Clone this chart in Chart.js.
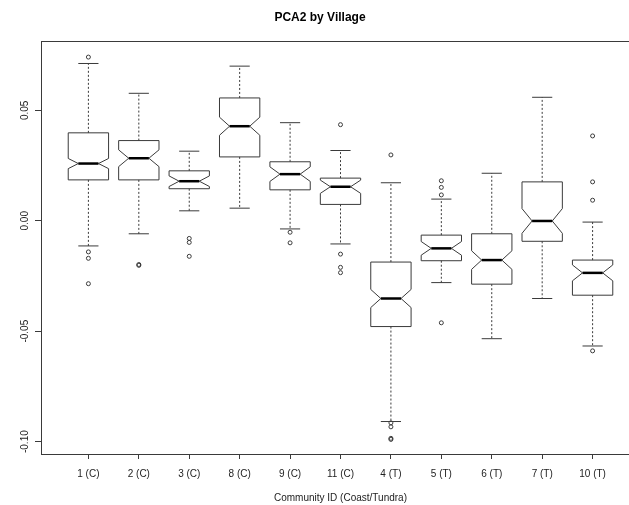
<!DOCTYPE html>
<html>
<head>
<meta charset="utf-8">
<title>PCA2 by Village</title>
<script src="https://cdn.jsdelivr.net/npm/chart.js@4.4.1/dist/chart.umd.min.js"></script>
<style>
  html, body { margin: 0; padding: 0; background: #fff; overflow: hidden; }
  #wrap { width: 629px; height: 505px; overflow: hidden; }
</style>
</head>
<body>
<div id="wrap"><canvas id="chart" width="681" height="505"></canvas></div>
<script>
// PCA2 box plot summaries per village
const villages = ['1 (C)', '2 (C)', '3 (C)', '8 (C)', '9 (C)', '11 (C)', '4 (T)', '5 (T)', '6 (T)', '7 (T)', '10 (T)'];

const whiskerLow  = [-0.0114, -0.0059,  0.0045,  0.0057, -0.0037, -0.0105, -0.0909, -0.0280, -0.0534, -0.0352, -0.0567];
const q1          = [ 0.0185,  0.0185,  0.0145,  0.0289,  0.0140,  0.0074, -0.0479, -0.0181, -0.0287, -0.0093, -0.0337];
const notchLow    = [ 0.0236,  0.0245,  0.0155,  0.0387,  0.0178,  0.0124, -0.0393, -0.0156, -0.0220, -0.0057, -0.0272];
const median      = [ 0.0259,  0.0283,  0.0179,  0.0428,  0.0211,  0.0154, -0.0352, -0.0125, -0.0178, -0.0001, -0.0236];
const notchHigh   = [ 0.0282,  0.0321,  0.0203,  0.0469,  0.0244,  0.0184, -0.0311, -0.0094, -0.0136,  0.0055, -0.0200];
const q3          = [ 0.0398,  0.0363,  0.0226,  0.0556,  0.0267,  0.0193, -0.0187, -0.0065, -0.0059,  0.0176, -0.0178];
const whiskerHigh = [ 0.0712,  0.0577,  0.0315,  0.0700,  0.0444,  0.0318,  0.0172,  0.0098,  0.0215,  0.0559, -0.0006];

const outliers = [
    [0.0741, -0.0141, -0.0170, -0.0285],
    [-0.0198, -0.0202],
    [-0.0080, -0.0098, -0.0161],
    [],
    [-0.0052, -0.0100],
    [0.0435, -0.0151, -0.0211, -0.0235],
    [0.0298, -0.0915, -0.0933, -0.0985, -0.0990],
    [0.0181, 0.0151, 0.0117, -0.0462],
    [],
    [],
    [0.0384, 0.0176, 0.0093, -0.0589]
];

const yTicks = [-0.10, -0.05, 0.00, 0.05];
const yTickLabels = ['-0.10', '-0.05', '0.00', '0.05'];

// R boxplot defaults: boxwex 0.8, staple half the box width
const BOX_WIDTH = 0.8;
const STAPLE_WIDTH = 0.4;
const LINE = '#3a3a3a';
const FONT = '"Liberation Sans", Arial, sans-serif';

const outlierPoints = outliers.flatMap((vals, i) => vals.map(v => ({ x: i + 1, y: v })));

const notchedBoxes = {
    id: 'notchedBoxes',
    beforeDatasetsDraw(chart) {
        const ctx = chart.ctx;
        const xs = chart.scales.x;
        const ys = chart.scales.y;
        const py = v => ys.getPixelForValue(v);
        ctx.save();
        villages.forEach((name, i) => {
            const pos = i + 1;
            const cx = xs.getPixelForValue(pos);
            const half = xs.getPixelForValue(pos + BOX_WIDTH / 2) - cx;
            const staple = xs.getPixelForValue(pos + STAPLE_WIDTH / 2) - cx;

            // whiskers
            ctx.strokeStyle = LINE;
            ctx.lineWidth = 1;
            ctx.setLineDash([2, 2]);
            ctx.beginPath();
            ctx.moveTo(cx, py(q3[i]));
            ctx.lineTo(cx, py(whiskerHigh[i]));
            ctx.moveTo(cx, py(q1[i]));
            ctx.lineTo(cx, py(whiskerLow[i]));
            ctx.stroke();
            ctx.setLineDash([]);

            // staples
            ctx.beginPath();
            ctx.moveTo(cx - staple, py(whiskerHigh[i]));
            ctx.lineTo(cx + staple, py(whiskerHigh[i]));
            ctx.moveTo(cx - staple, py(whiskerLow[i]));
            ctx.lineTo(cx + staple, py(whiskerLow[i]));
            ctx.stroke();

            // notched box
            ctx.beginPath();
            ctx.moveTo(cx - half, py(q1[i]));
            ctx.lineTo(cx - half, py(notchLow[i]));
            ctx.lineTo(cx - half / 2, py(median[i]));
            ctx.lineTo(cx - half, py(notchHigh[i]));
            ctx.lineTo(cx - half, py(q3[i]));
            ctx.lineTo(cx + half, py(q3[i]));
            ctx.lineTo(cx + half, py(notchHigh[i]));
            ctx.lineTo(cx + half / 2, py(median[i]));
            ctx.lineTo(cx + half, py(notchLow[i]));
            ctx.lineTo(cx + half, py(q1[i]));
            ctx.closePath();
            ctx.stroke();

            // median
            ctx.strokeStyle = '#000';
            ctx.lineWidth = 2.5;
            ctx.beginPath();
            ctx.moveTo(cx - half / 2, py(median[i]));
            ctx.lineTo(cx + half / 2, py(median[i]));
            ctx.stroke();
        });
        ctx.restore();
    },
    afterDraw(chart) {
        const ctx = chart.ctx;
        const a = chart.chartArea;
        const ys = chart.scales.y;
        ctx.save();
        // plot frame
        ctx.strokeStyle = LINE;
        ctx.lineWidth = 1;
        ctx.strokeRect(Math.round(a.left) + 0.5, Math.round(a.top) + 0.5,
                       Math.round(a.right - a.left), Math.round(a.bottom - a.top));
        // y tick labels, rotated like R's las = 0
        ctx.fillStyle = '#222';
        ctx.font = '10px ' + FONT;
        ctx.textAlign = 'center';
        ctx.textBaseline = 'alphabetic';
        yTicks.forEach((v, k) => {
            ctx.save();
            ctx.translate(27.5, ys.getPixelForValue(v));
            ctx.rotate(-Math.PI / 2);
            ctx.fillText(yTickLabels[k], 0, 0);
            ctx.restore();
        });
        ctx.restore();
    }
};

new Chart(document.getElementById('chart'), {
    type: 'scatter',
    data: {
        datasets: [{
            label: 'outliers',
            data: outlierPoints,
            pointRadius: 2,
            pointHoverRadius: 2,
            borderWidth: 1,
            borderColor: LINE,
            backgroundColor: 'rgba(0,0,0,0)'
        }]
    },
    options: {
        responsive: false,
        animation: false,
        events: [],
        layout: { padding: { left: 0, right: 41, top: 0, bottom: 0 } },
        plugins: {
            legend: { display: false },
            tooltip: { enabled: false },
            title: {
                display: true,
                text: 'PCA2 by Village',
                color: '#000',
                font: { family: FONT, size: 12, weight: 'bold' },
                padding: { top: 10, bottom: 17 }
            }
        },
        scales: {
            x: {
                type: 'linear',
                min: 0.06,
                max: 11.94,
                afterBuildTicks: scale => { scale.ticks = villages.map((v, i) => ({ value: i + 1 })); },
                afterFit: scale => { scale.height = 51; },
                border: { display: false },
                grid: { drawOnChartArea: false, drawTicks: true, tickLength: 5, color: LINE },
                ticks: {
                    autoSkip: false,
                    maxRotation: 0,
                    padding: 9,
                    color: '#222',
                    font: { family: FONT, size: 10 },
                    callback: value => villages[value - 1]
                },
                title: {
                    display: true,
                    text: 'Community ID (Coast/Tundra)',
                    color: '#222',
                    font: { family: FONT, size: 10 },
                    padding: { top: 0, bottom: 1 }
                }
            },
            y: {
                type: 'linear',
                min: -0.1056,
                max: 0.0812,
                afterBuildTicks: scale => { scale.ticks = yTicks.map(v => ({ value: v })); },
                afterFit: scale => { scale.width = 41; },
                border: { display: false },
                grid: { drawOnChartArea: false, drawTicks: true, tickLength: 6, color: LINE },
                ticks: { display: false }
            }
        }
    },
    plugins: [notchedBoxes]
});
</script>
</body>
</html>
